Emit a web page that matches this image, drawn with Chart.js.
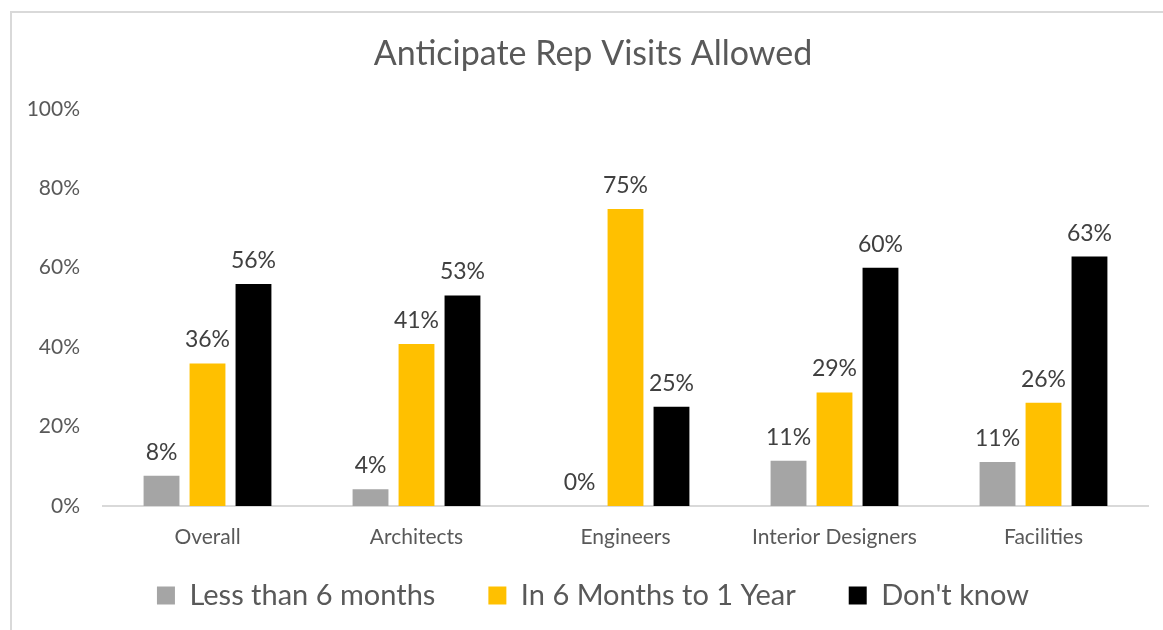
<!DOCTYPE html>
<html>
<head>
<meta charset="utf-8">
<script src="https://cdn.jsdelivr.net/npm/chart.js@4.4.1/dist/chart.umd.min.js"></script>
<style>
  html, body { margin: 0; padding: 0; background: #fff; overflow: hidden; }
  #frame { position: absolute; left: 10px; top: 11px; width: 1200px; height: 700px; border: 2px solid #d9d9d9; box-sizing: border-box; }
  #wrap { position: absolute; left: 0; top: 0; width: 1163px; height: 630px; }
</style>
</head>
<body>
<div id="frame"></div>
<div id="wrap"><canvas id="c" width="1163" height="630"></canvas></div>
<script>
const categories = ["Overall", "Architects", "Engineers", "Interior Designers", "Facilities"];
const lessThan6Months = [7.6, 4.2, 0, 11.4, 11.1];
const sixMonthsTo1Year = [35.9, 40.8, 74.8, 28.6, 26.0];
const dontKnow = [55.9, 53.0, 25.0, 60.0, 62.8];
const seriesNames = ["Less than 6 months", "In 6 Months to 1 Year", "Don't know"];
const yTicks = [0, 20, 40, 60, 80, 100];

const FONT = "Lato, 'Open Sans', sans-serif";

const axisAndValueLabels = {
  id: 'axisAndValueLabels',
  afterDraw(chart) {
    const ctx = chart.ctx;
    ctx.save();
    // value labels above bars
    ctx.font = "23px " + FONT;
    ctx.fillStyle = "#404040";
    ctx.textAlign = "center";
    ctx.textBaseline = "alphabetic";
    chart.data.datasets.forEach((ds, i) => {
      const meta = chart.getDatasetMeta(i);
      meta.data.forEach((bar, j) => {
        ctx.fillText(Math.round(ds.data[j]) + "%", bar.x, bar.y - 16);
      });
    });
    // category labels under the x axis
    const xs = chart.scales.x;
    ctx.font = "21px " + FONT;
    ctx.fillStyle = "#595959";
    ctx.textBaseline = "middle";
    chart.data.labels.forEach((lab, i) => {
      ctx.fillText(lab, xs.getPixelForTick(i), xs.top + 31);
    });
    // y tick labels
    const ys = chart.scales.y;
    ctx.textAlign = "right";
    yTicks.forEach(v => {
      ctx.fillText(v + "%", chart.chartArea.left - 23, ys.getPixelForValue(v));
    });
    ctx.restore();
  }
};

new Chart(document.getElementById('c'), {
  type: 'bar',
  data: {
    labels: categories,
    datasets: [
      { label: seriesNames[0], data: lessThan6Months, backgroundColor: '#A5A5A5' },
      { label: seriesNames[1], data: sixMonthsTo1Year, backgroundColor: '#FFC000' },
      { label: seriesNames[2], data: dontKnow, backgroundColor: '#000000' }
    ]
  },
  options: {
    responsive: false,
    animation: false,
    devicePixelRatio: 1,
    layout: { padding: { top: 12, right: 15, left: 38, bottom: 10 } },
    datasets: { bar: { categoryPercentage: 0.66, barPercentage: 0.78 } },
    plugins: {
      title: {
        display: true,
        text: "Anticipate Rep Visits Allowed",
        color: "#595959",
        font: { family: FONT, size: 34, weight: 'normal' },
        padding: { top: 22, bottom: 34 }
      },
      legend: {
        position: 'bottom',
        labels: {
          color: "#595959",
          font: { family: FONT, size: 29 },
          boxWidth: 18,
          boxHeight: 18,
          padding: 53
        }
      },
      tooltip: { enabled: false }
    },
    scales: {
      x: {
        afterFit(scale) { scale.height = 22; },
        grid: { display: false, drawTicks: false },
        border: { display: true, color: '#d9d9d9', width: 2 },
        ticks: { display: false }
      },
      y: {
        min: 0, max: 100,
        afterFit(scale) { scale.width = 65; },
        afterBuildTicks(scale) { scale.ticks = yTicks.map(v => ({ value: v })); },
        grid: { display: false, drawTicks: false },
        border: { display: false },
        ticks: { display: false }
      }
    }
  },
  plugins: [axisAndValueLabels]
});
</script>
</body>
</html>
